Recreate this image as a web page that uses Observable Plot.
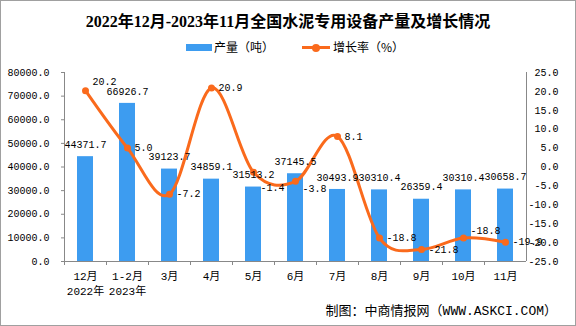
<!DOCTYPE html>
<html><head><meta charset="utf-8">
<script src="https://cdn.jsdelivr.net/npm/d3@7"></script>
<script src="https://cdn.jsdelivr.net/npm/@observablehq/plot@0.6"></script>
<style>
body{margin:0;background:#fff}
#wrap{position:relative;width:576px;height:326px;overflow:hidden;background:#fff;font-family:"Noto Sans CJK SC",sans-serif}
#chart{position:absolute;left:0;top:0}
#border{position:absolute;left:0;top:0;width:576px;height:326px;box-sizing:border-box;border:1px solid #a0a0a0;pointer-events:none}
#title{position:absolute;left:0;top:12px;width:576px;text-align:center;font:bold 16px/20px "Liberation Serif","Noto Sans CJK SC",serif;color:#000}
.lg{position:absolute}
.lgt{position:absolute;top:40px;font-size:12px;line-height:14px;color:#000;white-space:nowrap}
#footer{position:absolute;right:19px;top:304px;font:13px/16px "Liberation Mono","Noto Sans CJK SC",monospace;color:#000;white-space:nowrap}
</style></head>
<body>
<div id="wrap">
  <div id="chart"></div>
  <div id="title">2022年12月-2023年11月全国水泥专用设备产量及增长情况</div>
  <div class="lg" style="left:186px;top:44px;width:26px;height:7px;background:#3d9cf0"></div>
  <div class="lgt" style="left:214px">产量（吨）</div>
  <div class="lg" style="left:302px;top:46px;width:28px;height:3px;background:#fa6a1c"></div>
  <div class="lg" style="left:312px;top:44px;width:8px;height:8px;border-radius:50%;background:#fa6a1c"></div>
  <div class="lgt" style="left:333px">增长率（%）</div>
  <div id="footer">制图：中商情报网（WWW.ASKCI.COM）</div>
  <div id="border"></div>
</div>
<script>
const categories = ["12月","1-2月","3月","4月","5月","6月","7月","8月","9月","10月","11月"];
const xLabels = ["12月\n2022年","1-2月\n2023年","3月","4月","5月","6月","7月","8月","9月","10月","11月"];
const output = [44371.7, 66926.7, 39123.7, 34859.1, 31513.2, 37145.5, 30493.9, 30310.4, 26359.4, 30310.4, 30658.7];
const growth = [20.2, 5.0, -7.2, 20.9, -1.4, -3.8, 8.1, -18.8, -21.8, -18.8, -19.9];
const leftTicks = [0, 10000, 20000, 30000, 40000, 50000, 60000, 70000, 80000];
const rightTicks = [-25, -20, -15, -10, -5, 0, 5, 10, 15, 20, 25];

const yMax = 80000, gMin = -25, gMax = 25;
const g2y = g => (g - gMin) / (gMax - gMin) * yMax;
const y2g = y => y / yMax * (gMax - gMin) + gMin;
const data = categories.map((c, i) => ({c, i, v: output[i], g: growth[i], gy: g2y(growth[i])}));

const barColor = "#3d9cf0", lineColor = "#fa6a1c", axisColor = "#888";
const special = {0: -9, 4: 16, 5: 7, 9: -7};
const normal = data.filter(d => !(d.i in special));

const marks = [
  Plot.barY(data, {x: "c", y: "v", fill: barColor}),
  Plot.ruleY([0], {stroke: axisColor}),
  Plot.ruleX([categories[0]], {dx: -21, y1: 0, y2: yMax, stroke: axisColor}),
  Plot.ruleX([categories[categories.length - 1]], {dx: 21, y1: 0, y2: yMax, stroke: axisColor}),
  Plot.axisY({ticks: leftTicks, tickFormat: d => d.toFixed(1), tickSize: 3, tickPadding: 12, stroke: axisColor, fill: "#000", label: null}),
  Plot.axisY({anchor: "right", ticks: rightTicks.map(g2y), tickFormat: d => y2g(d).toFixed(1), tickSize: 3, tickPadding: 3, textAnchor: "end", dx: 26, stroke: axisColor, fill: "#000", label: null}),
  Plot.axisX({ticks: categories, tickSize: 4, dx: -21, tickFormat: () => "", stroke: axisColor, label: null}),
  Plot.axisX({ticks: categories, tickSize: 0, tickPadding: 8, fontSize: 11, lineHeight: 1.35, tickFormat: d => xLabels[categories.indexOf(d)], fill: "#000", label: null}),
  Plot.lineY(data, {x: "c", y: "gy", stroke: lineColor, strokeWidth: 3, curve: "cardinal", tension: 0}),
  Plot.dot(data, {x: "c", y: "gy", r: 3.5, fill: lineColor}),
  Plot.text(data, {x: "c", y: "v", text: d => d.v.toFixed(1), dy: -12, fill: "#000"}),
  Plot.text(normal, {x: "c", y: "gy", text: d => d.g.toFixed(1), textAnchor: "start", dx: 7, fill: "#000"})
];
for (const k of Object.keys(special)) {
  const d = data[+k];
  marks.push(Plot.text([d], {x: "c", y: "gy", text: d => d.g.toFixed(1), textAnchor: "start", dx: 7, dy: special[k], fill: "#000"}));
}

const chart = Plot.plot({
  width: 576, height: 326,
  marginTop: 72, marginBottom: 65, marginLeft: 64, marginRight: 50,
  style: {fontFamily: '"Liberation Mono","Noto Sans CJK SC",monospace', fontSize: "10px", color: "#000", background: "transparent", overflow: "visible"},
  x: {domain: categories, paddingInner: 0.62, paddingOuter: 0.31, axis: null},
  y: {domain: [0, yMax], axis: null},
  marks
});
document.getElementById("chart").appendChild(chart);
</script>
</body></html>
